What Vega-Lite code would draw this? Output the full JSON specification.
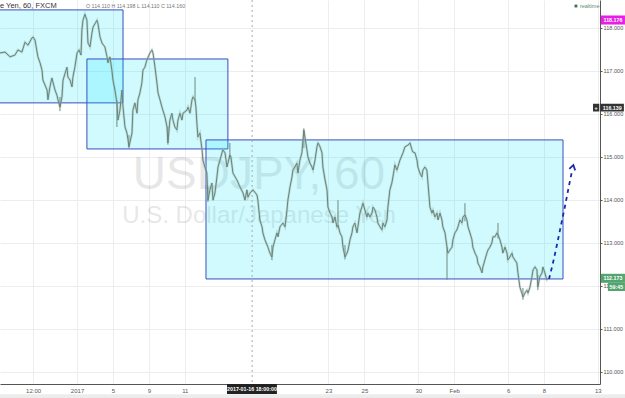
{
  "$schema": "https://vega.github.io/schema/vega-lite/v6.json",
  "width": 600,
  "height": 384,
  "autosize": {"type": "none"},
  "padding": {"left": 0, "top": 0, "right": 25, "bottom": 14},
  "background": "#ffffff",
  "view": {"stroke": null},
  "config": {"font": "Liberation Sans"},
  "datasets": {
    "price": [
      {"t":-6.29,"p":117.41},{"t":-6.01,"p":117.43},{"t":-5.73,"p":117.32},{"t":-5.46,"p":117.36},{"t":-5.29,"p":117.48},{"t":-5.07,"p":117.43},{"t":-4.90,"p":117.66},{"t":-4.73,"p":117.59},{"t":-4.51,"p":117.76},{"t":-4.45,"p":117.78},{"t":-4.34,"p":117.71},{"t":-4.18,"p":117.32},{"t":-4.06,"p":117.18},{"t":-3.95,"p":117.01},{"t":-3.90,"p":116.78},{"t":-3.67,"p":116.55},{"t":-3.62,"p":116.32},{"t":-3.51,"p":116.62},{"t":-3.40,"p":116.83},{"t":-3.23,"p":116.55},{"t":-3.12,"p":116.43},{"t":-3.06,"p":116.32},{"t":-2.95,"p":116.15},{"t":-2.84,"p":116.39},{"t":-2.78,"p":116.78},{"t":-2.56,"p":117.08},{"t":-2.51,"p":116.85},{"t":-2.39,"p":116.78},{"t":-2.28,"p":116.62},{"t":-2.23,"p":116.85},{"t":-2.12,"p":117.08},{"t":-2.00,"p":117.41},{"t":-1.89,"p":117.48},{"t":-1.78,"p":117.36},{"t":-1.73,"p":117.94},{"t":-1.67,"p":118.17},{"t":-1.56,"p":118.31},{"t":-1.45,"p":118.17},{"t":-1.39,"p":117.64},{"t":-1.28,"p":117.55},{"t":-1.17,"p":117.87},{"t":-1.11,"p":118.01},{"t":-0.89,"p":118.17},{"t":-0.84,"p":118.10},{"t":-0.72,"p":117.78},{"t":-0.61,"p":117.64},{"t":-0.45,"p":117.55},{"t":-0.33,"p":117.32},{"t":-0.28,"p":117.18},{"t":-0.17,"p":117.32},{"t":-0.06,"p":117.01},{"t":0.00,"p":116.78},{"t":0.11,"p":116.55},{"t":0.22,"p":116.25},{"t":0.28,"p":115.85},{"t":0.39,"p":116.08},{"t":0.50,"p":116.55},{"t":0.56,"p":116.15},{"t":0.67,"p":115.69},{"t":0.78,"p":115.55},{"t":0.84,"p":115.39},{"t":0.89,"p":115.23},{"t":1.06,"p":115.55},{"t":1.11,"p":116.08},{"t":1.22,"p":116.25},{"t":1.34,"p":116.01},{"t":1.39,"p":116.32},{"t":1.50,"p":116.48},{"t":1.61,"p":116.71},{"t":1.67,"p":117.01},{"t":1.78,"p":117.08},{"t":1.89,"p":117.25},{"t":2.06,"p":117.41},{"t":2.17,"p":117.48},{"t":2.23,"p":117.41},{"t":2.34,"p":117.08},{"t":2.45,"p":116.71},{"t":2.51,"p":116.48},{"t":2.62,"p":116.32},{"t":2.73,"p":116.15},{"t":2.78,"p":116.08},{"t":2.90,"p":115.92},{"t":3.01,"p":115.69},{"t":3.06,"p":115.32},{"t":3.17,"p":115.85},{"t":3.28,"p":116.01},{"t":3.34,"p":115.85},{"t":3.45,"p":115.69},{"t":3.56,"p":115.62},{"t":3.62,"p":115.85},{"t":3.73,"p":116.01},{"t":3.84,"p":115.85},{"t":3.90,"p":116.01},{"t":4.12,"p":116.08},{"t":4.18,"p":116.15},{"t":4.29,"p":116.01},{"t":4.40,"p":116.32},{"t":4.46,"p":116.39},{"t":4.57,"p":116.32},{"t":4.62,"p":116.15},{"t":4.68,"p":115.74},{"t":4.73,"p":115.46},{"t":4.84,"p":115.55},{"t":4.96,"p":115.16},{"t":5.01,"p":114.92},{"t":5.12,"p":114.76},{"t":5.23,"p":114.62},{"t":5.29,"p":113.99},{"t":5.40,"p":114.23},{"t":5.51,"p":114.39},{"t":5.57,"p":113.99},{"t":5.68,"p":114.16},{"t":5.79,"p":114.53},{"t":5.85,"p":114.76},{"t":5.96,"p":114.92},{"t":6.07,"p":115.09},{"t":6.12,"p":115.16},{"t":6.24,"p":115.09},{"t":6.35,"p":114.76},{"t":6.51,"p":115.04},{"t":6.57,"p":114.99},{"t":6.68,"p":114.62},{"t":6.90,"p":114.46},{"t":7.07,"p":114.30},{"t":7.24,"p":114.16},{"t":7.35,"p":113.99},{"t":7.46,"p":114.23},{"t":7.52,"p":114.06},{"t":7.63,"p":114.16},{"t":7.80,"p":114.23},{"t":8.02,"p":114.11},{"t":8.07,"p":113.99},{"t":8.18,"p":113.53},{"t":8.30,"p":113.37},{"t":8.35,"p":113.23},{"t":8.46,"p":113.07},{"t":8.63,"p":112.90},{"t":8.74,"p":112.76},{"t":8.85,"p":112.67},{"t":8.91,"p":112.90},{"t":9.02,"p":113.07},{"t":9.13,"p":113.23},{"t":9.19,"p":113.14},{"t":9.30,"p":113.37},{"t":9.47,"p":113.46},{"t":9.58,"p":113.37},{"t":9.69,"p":113.76},{"t":9.74,"p":113.99},{"t":9.86,"p":114.30},{"t":9.97,"p":114.53},{"t":10.02,"p":114.69},{"t":10.13,"p":114.76},{"t":10.24,"p":114.85},{"t":10.30,"p":114.62},{"t":10.41,"p":114.92},{"t":10.52,"p":115.09},{"t":10.58,"p":115.39},{"t":10.63,"p":115.62},{"t":10.80,"p":115.16},{"t":10.86,"p":114.99},{"t":10.97,"p":114.85},{"t":11.08,"p":114.76},{"t":11.14,"p":114.69},{"t":11.25,"p":114.92},{"t":11.36,"p":115.23},{"t":11.42,"p":115.32},{"t":11.53,"p":115.23},{"t":11.64,"p":115.09},{"t":11.69,"p":114.76},{"t":11.81,"p":114.46},{"t":11.92,"p":114.23},{"t":11.97,"p":113.83},{"t":12.09,"p":113.69},{"t":12.20,"p":113.60},{"t":12.25,"p":113.46},{"t":12.36,"p":113.60},{"t":12.47,"p":113.37},{"t":12.53,"p":113.41},{"t":12.64,"p":113.23},{"t":12.75,"p":113.14},{"t":12.81,"p":112.90},{"t":12.92,"p":112.67},{"t":13.03,"p":112.76},{"t":13.09,"p":112.83},{"t":13.20,"p":113.07},{"t":13.31,"p":113.23},{"t":13.36,"p":113.37},{"t":13.47,"p":113.46},{"t":13.59,"p":113.23},{"t":13.64,"p":113.37},{"t":13.75,"p":113.69},{"t":13.86,"p":113.83},{"t":13.92,"p":113.92},{"t":14.03,"p":113.76},{"t":14.14,"p":113.60},{"t":14.20,"p":113.69},{"t":14.31,"p":113.60},{"t":14.42,"p":113.69},{"t":14.48,"p":113.83},{"t":14.59,"p":113.76},{"t":14.70,"p":113.60},{"t":14.75,"p":113.46},{"t":14.87,"p":113.37},{"t":14.98,"p":113.30},{"t":15.03,"p":113.46},{"t":15.14,"p":113.37},{"t":15.26,"p":113.53},{"t":15.31,"p":113.83},{"t":15.42,"p":114.23},{"t":15.53,"p":114.39},{"t":15.59,"p":114.53},{"t":15.70,"p":114.81},{"t":15.81,"p":114.69},{"t":15.98,"p":114.92},{"t":16.15,"p":115.09},{"t":16.26,"p":115.23},{"t":16.43,"p":115.27},{"t":16.54,"p":115.32},{"t":16.65,"p":115.16},{"t":16.70,"p":115.11},{"t":16.82,"p":115.09},{"t":16.93,"p":114.92},{"t":16.98,"p":114.76},{"t":17.09,"p":114.62},{"t":17.20,"p":114.53},{"t":17.26,"p":114.69},{"t":17.37,"p":114.76},{"t":17.48,"p":114.69},{"t":17.54,"p":114.39},{"t":17.65,"p":113.83},{"t":17.76,"p":113.69},{"t":17.82,"p":113.76},{"t":17.93,"p":113.60},{"t":18.04,"p":113.69},{"t":18.10,"p":113.53},{"t":18.21,"p":113.69},{"t":18.32,"p":113.53},{"t":18.37,"p":113.37},{"t":18.49,"p":113.23},{"t":18.60,"p":112.90},{"t":18.65,"p":112.76},{"t":18.76,"p":112.83},{"t":18.88,"p":112.90},{"t":18.93,"p":113.07},{"t":19.04,"p":113.23},{"t":19.15,"p":113.30},{"t":19.21,"p":113.37},{"t":19.32,"p":113.53},{"t":19.43,"p":113.46},{"t":19.49,"p":113.60},{"t":19.60,"p":113.65},{"t":19.71,"p":113.53},{"t":19.77,"p":113.37},{"t":19.88,"p":113.23},{"t":19.99,"p":113.07},{"t":20.04,"p":112.90},{"t":20.16,"p":112.76},{"t":20.27,"p":112.67},{"t":20.32,"p":112.53},{"t":20.43,"p":112.44},{"t":20.55,"p":112.30},{"t":20.60,"p":112.44},{"t":20.71,"p":112.60},{"t":20.82,"p":112.76},{"t":20.88,"p":112.83},{"t":20.99,"p":112.90},{"t":21.10,"p":113.00},{"t":21.16,"p":113.14},{"t":21.27,"p":113.14},{"t":21.38,"p":113.23},{"t":21.44,"p":113.18},{"t":21.55,"p":113.07},{"t":21.66,"p":112.90},{"t":21.71,"p":112.76},{"t":21.83,"p":112.90},{"t":21.94,"p":112.76},{"t":21.99,"p":112.60},{"t":22.10,"p":112.67},{"t":22.22,"p":112.76},{"t":22.27,"p":112.67},{"t":22.38,"p":112.60},{"t":22.49,"p":112.53},{"t":22.55,"p":112.30},{"t":22.66,"p":111.97},{"t":22.77,"p":111.83},{"t":22.83,"p":111.74},{"t":22.94,"p":111.83},{"t":23.05,"p":111.90},{"t":23.11,"p":111.83},{"t":23.22,"p":111.97},{"t":23.33,"p":112.21},{"t":23.39,"p":112.37},{"t":23.50,"p":112.44},{"t":23.61,"p":112.37},{"t":23.66,"p":111.97},{"t":23.77,"p":112.21},{"t":23.89,"p":112.30},{"t":23.94,"p":112.44},{"t":24.05,"p":112.30},{"t":24.16,"p":112.14},{"t":24.22,"p":112.17}
    ],
    "spikes": [
      {"t":-2.95,"lo":116.06,"hi":116.39},{"t":0.22,"lo":115.69,"hi":116.30},{"t":0.89,"lo":115.20,"hi":115.50},{"t":3.06,"lo":115.28,"hi":115.70},{"t":4.57,"lo":116.30,"hi":116.85},{"t":5.29,"lo":113.95,"hi":114.30},{"t":6.51,"lo":114.95,"hi":115.32},{"t":8.85,"lo":112.60,"hi":112.95},{"t":10.63,"lo":115.20,"hi":115.66},{"t":12.53,"lo":113.35,"hi":113.99},{"t":12.92,"lo":112.62,"hi":112.95},{"t":18.60,"lo":112.14,"hi":112.90},{"t":19.60,"lo":113.50,"hi":113.92},{"t":21.44,"lo":113.10,"hi":113.46},{"t":22.83,"lo":111.68,"hi":111.95},{"t":23.66,"lo":111.90,"hi":112.25}
    ],
    "boxes": [
      {"x1":-7.0,"x2":0.56,"top":118.41,"bot":116.25},
      {"x1":-1.45,"x2":6.40,"top":117.27,"bot":115.18},
      {"x1":5.18,"x2":25.06,"top":115.39,"bot":112.16}
    ],
    "arrow": [
      {"t":24.28,"p":112.16},{"t":24.50,"p":112.53},{"t":24.72,"p":112.95},{"t":24.94,"p":113.39},{"t":25.17,"p":113.85},{"t":25.39,"p":114.32},{"t":25.58,"p":114.70}
    ]
  },
  "encoding": {
    "x": {"field": "t", "type": "quantitative", "scale": {"domain": [-6.29, 27.12], "nice": false, "zero": false},
      "axis": {"title": null, "orient": "bottom", "values": [-4.45, -2, 0, 2, 4, 12, 14, 17, 19, 22, 24, 27],
        "labelExpr": "datum.value < -4 ? '12:00' : datum.value < -1 ? '2017' : datum.value < 1 ? '5' : datum.value < 3 ? '9' : datum.value < 5 ? '11' : datum.value < 13 ? '23' : datum.value < 15 ? '25' : datum.value < 18 ? '30' : datum.value < 20 ? 'Feb' : datum.value < 23 ? '6' : datum.value < 25 ? '8' : '13'",
        "grid": true, "gridColor": "#ededed", "gridWidth": 1, "domainColor": "#555555", "domainWidth": 1, "ticks": false,
        "labelFontSize": 6, "labelColor": "#555555", "labelPadding": 3, "labelOverlap": false, "labelFlush": false, "labelBound": false}},
    "y": {"type": "quantitative", "scale": {"domain": [109.72, 118.64], "nice": false, "zero": false}}
  },
  "layer": [
    {
      "data": {"values": [{"t": 8.13, "p": 114.57, "s": "USDJPY, 60"}]},
      "mark": {"type": "text", "fontSize": 46, "color": "#000000", "opacity": 0.09, "align": "center", "baseline": "middle"},
      "encoding": {"y": {"field": "p", "type": "quantitative",
        "axis": {"title": null, "orient": "right", "values": [110, 110.5, 111, 111.5, 112, 112.5, 113, 113.5, 114, 114.5, 115, 115.5, 116, 116.5, 117, 117.5, 118, 118.5],
          "format": ".3f", "grid": true, "gridColor": "#ededed", "domainColor": "#555555", "tickColor": "#555555", "tickSize": 2,
          "labelFontSize": 5.6, "labelColor": "#555555", "labelPadding": 1}},
        "text": {"field": "s"}}
    },
    {
      "data": {"values": [{"t": 8.13, "p": 113.62, "s": "U.S. Dollar/Japanese Yen"}]},
      "mark": {"type": "text", "fontSize": 24, "color": "#000000", "opacity": 0.09, "align": "center", "baseline": "middle"},
      "encoding": {"y": {"field": "p", "type": "quantitative"}, "text": {"field": "s"}}
    },
    {
      "data": {"name": "boxes"},
      "mark": {"type": "rect", "fill": "#00e6ff", "fillOpacity": 0.18, "stroke": "#3c4cc0", "strokeWidth": 1, "clip": true},
      "encoding": {"x": {"field": "x1", "type": "quantitative"}, "x2": {"field": "x2"}, "y": {"field": "top", "type": "quantitative"}, "y2": {"field": "bot"}}
    },
    {
      "data": {"values": [{"p": 118.176}]},
      "mark": {"type": "rule", "color": "#e81ee8", "strokeWidth": 1.5, "strokeDash": [6, 5], "clip": true},
      "encoding": {"y": {"field": "p", "type": "quantitative"}}
    },
    {
      "data": {"values": [{"p": 116.139}]},
      "mark": {"type": "rule", "color": "#9a9a9a", "strokeWidth": 1, "strokeDash": [3, 3], "clip": true},
      "encoding": {"y": {"field": "p", "type": "quantitative"}}
    },
    {
      "data": {"values": [{"t": 7.75}]},
      "mark": {"type": "rule", "color": "#aaaaaa", "strokeWidth": 1, "strokeDash": [2, 3], "clip": true},
      "encoding": {"x": {"field": "t", "type": "quantitative"}}
    },
    {
      "data": {"name": "spikes"},
      "mark": {"type": "rule", "color": "#6d8a7d", "strokeWidth": 1, "clip": true},
      "encoding": {"y": {"field": "lo", "type": "quantitative"}, "y2": {"field": "hi"}}
    },
    {
      "data": {"name": "price"},
      "mark": {"type": "line", "color": "#a3b8ae", "strokeWidth": 2.4, "opacity": 0.5, "clip": true},
      "encoding": {"y": {"field": "p", "type": "quantitative"}}
    },
    {
      "data": {"name": "price"},
      "mark": {"type": "line", "color": "#66857a", "strokeWidth": 1, "clip": true},
      "encoding": {"y": {"field": "p", "type": "quantitative"}}
    },
    {
      "data": {"name": "arrow"},
      "mark": {"type": "line", "color": "#1c2aa8", "strokeWidth": 1.8, "strokeDash": [4, 4], "interpolate": "monotone"},
      "encoding": {"y": {"field": "p", "type": "quantitative"}}
    },
    {
      "data": {"values": [{"t": 25.61, "p": 114.76}]},
      "mark": {"type": "point", "shape": "M -0.9 0.8 L 0 -0.6 L 0.9 0.8", "filled": false, "size": 45, "strokeWidth": 1.8, "color": "#1c2aa8", "angle": 14, "opacity": 1},
      "encoding": {"y": {"field": "p", "type": "quantitative"}}
    },
    {
      "data": {"values": [{"t": -6.29, "p": 118.50, "s": "e Yen, 60, FXCM"}]},
      "mark": {"type": "text", "fontSize": 7.5, "color": "#333333", "align": "left", "baseline": "middle"},
      "encoding": {"y": {"field": "p", "type": "quantitative"}, "text": {"field": "s"}}
    },
    {
      "data": {"values": [{"t": -1.50, "p": 118.50, "s": "O 114.110  H 114.198  L 114.110  C 114.160"}]},
      "mark": {"type": "text", "fontSize": 5.3, "color": "#777777", "align": "left", "baseline": "middle"},
      "encoding": {"y": {"field": "p", "type": "quantitative"}, "text": {"field": "s"}}
    },
    {
      "data": {"values": [{"t": 25.78, "p": 118.50}]},
      "mark": {"type": "point", "shape": "square", "filled": true, "size": 8, "color": "#3d6e56", "opacity": 1},
      "encoding": {"y": {"field": "p", "type": "quantitative"}}
    },
    {
      "data": {"values": [{"t": 26.0, "p": 118.50, "s": "realtime"}]},
      "mark": {"type": "text", "fontSize": 5.5, "color": "#5c8a74", "align": "left", "baseline": "middle"},
      "encoding": {"y": {"field": "p", "type": "quantitative"}, "text": {"field": "s"}}
    },
    {
      "data": {"values": [
        {"x1": 27.17, "x2": 28.51, "y1": 118.07, "y2": 118.28, "c": "#e81ee8"},
        {"x1": 26.73, "x2": 27.08, "y1": 116.05, "y2": 116.23, "c": "#333333"},
        {"x1": 27.14, "x2": 28.45, "y1": 116.05, "y2": 116.23, "c": "#333333"},
        {"x1": 27.17, "x2": 28.51, "y1": 112.07, "y2": 112.28, "c": "#53a46e"},
        {"x1": 27.56, "x2": 28.51, "y1": 111.88, "y2": 112.07, "c": "#53a46e"},
        {"x1": 6.35, "x2": 9.13, "y1": 109.49, "y2": 109.72, "c": "#222222"},
        {"x1": -6.29, "x2": 28.6, "y1": 109.30, "y2": 109.48, "c": "#ececec"}
      ]},
      "mark": {"type": "rect", "clip": false},
      "encoding": {"x": {"field": "x1", "type": "quantitative"}, "x2": {"field": "x2"}, "y": {"field": "y1", "type": "quantitative"}, "y2": {"field": "y2"}, "color": {"field": "c", "type": "nominal", "scale": null}}
    },
    {
      "data": {"values": [
        {"t": 27.84, "p": 118.176, "s": "118.176"},
        {"t": 26.905, "p": 116.139, "s": "+"},
        {"t": 27.8, "p": 116.139, "s": "116.139"},
        {"t": 27.84, "p": 112.18, "s": "112.173"},
        {"t": 28.03, "p": 111.97, "s": "59:45"},
        {"t": 7.74, "p": 109.605, "s": "2017-01-16 18:00:00"}
      ]},
      "mark": {"type": "text", "fontSize": 5.3, "fontWeight": "bold", "color": "#ffffff", "align": "center", "baseline": "middle"},
      "encoding": {"y": {"field": "p", "type": "quantitative"}, "text": {"field": "s"}}
    }
  ]
}
